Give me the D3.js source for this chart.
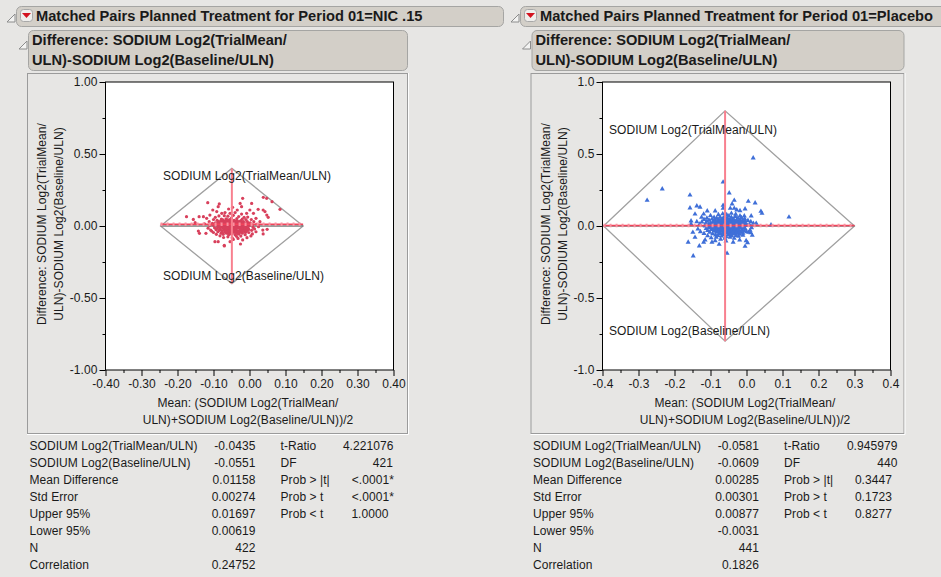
<!DOCTYPE html>
<html><head><meta charset="utf-8">
<script src="https://cdn.jsdelivr.net/npm/d3@7"></script>
<style>
html,body{margin:0;padding:0;background:#e7e6e4;overflow:hidden}
svg{display:block}
text{font-family:"Liberation Sans",Arial,sans-serif;font-size:12px;fill:#1a1a1a;letter-spacing:.07px}
</style></head><body><svg id="c" width="941" height="577"></svg>
<script>
const statLabels1 = ["SODIUM Log2(TrialMean/ULN)","SODIUM Log2(Baseline/ULN)","Mean Difference","Std Error","Upper 95%","Lower 95%","N","Correlation"];
const statLabels2 = ["t-Ratio","DF","Prob > |t|","Prob > t","Prob < t"];
const nicStats1 = ["-0.0435","-0.0551","0.01158","0.00274","0.01697","0.00619","422","0.24752"];
const nicStats2 = ["4.221076","421","<.0001*","<.0001*","1.0000"];
const plaStats1 = ["-0.0581","-0.0609","0.00285","0.00301","0.00877","-0.0031","441","0.1826"];
const plaStats2 = ["0.945979","440","0.3447","0.1723","0.8277"];
const xTicks = [-0.4,-0.3,-0.2,-0.1,0,0.1,0.2,0.3,0.4];
const xMinor = [-0.35,-0.25,-0.15,-0.05,0.05,0.15,0.25,0.35];
const yTicks = [-1,-0.5,0,0.5,1];
const yMinor = [-0.75,-0.25,0.25,0.75];
const nicDiamond = [[-0.247,0],[-0.049,0.4],[0.149,0],[-0.049,-0.4]];
const plaDiamond = [[-0.397,0],[-0.0595,0.8],[0.3,0],[-0.0595,-0.8]];
const nicCentre = -0.049, plaCentre = -0.0595;
const nicMeanDiff = 0.01158, plaMeanDiff = 0.00285;
const nicPoints = [
[.0384,.199],[.0477,.192],[.0625,.169],[.0847,.116],[-.116,.162],[-.084,.153],[-.087,.134],[-.019,.192],[-.026,.157],[.006,.157],
[-.058,.118],[-.047,.130],[-.034,.111],[-.022,.134],[.001,.111],[.024,.116],[.038,.111],[.043,.100],[.048,.076],[.052,.060],
[-.175,.065],[-.156,.046],[-.140,.065],[-.128,.065],[-.151,.023],[-.119,.053],[-.110,.076],[-.102,.111],[-.091,.100],[-.077,.088],
[-.068,.093],[-.054,.088],[-.040,.093],[-.022,.083],[-.008,.088],[.011,.088],[.018,.053],[.029,.030],[.037,-.028],[.049,-.023],
[.038,-.055],[.004,-.069],[.008,-.055],[-.142,-.035],[-.139,-.051],[-.121,-.051],[-.105,-.035],[-.096,-.109],[-.087,-.109],[-.070,-.134],
[-.070,-.139],[-.054,-.109],[-.025,-.125],[-.019,-.097],[-.007,-.081],[-.032,-.086],[-.045,-.093],[-.112,.030],[-.125,.015],[-.100,.045],
[-.095,.060],[-.085,.070],[-.070,.072],[-.060,.068],[-.045,.074],[-.030,.066],[-.015,.060],[-.005,.062],[.005,.045],[.012,.030],
[.020,.012],[.025,-.005],[.014,-.020],[.018,-.040],[-.010,.045],[-.020,.048],[-.035,.052],[-.050,.055],[-.065,.050],[-.078,.048],
[-.090,.040],[-.103,.018],[-.110,.005],[-.115,-.015],[-.108,-.028],[-.100,-.045],[-.092,-.058],[-.082,-.068],[-.072,-.080],[-.060,-.075],
[-.048,-.082],[-.036,-.072],[-.024,-.070],[-.012,-.060],[-.002,-.045],[.006,-.030],[.010,-.010],[.008,.008],[.002,.022]
];
const nicCore = [
[-.100,.005],[-.097,-.012],[-.095,.022],[-.093,-.025],[-.091,.010],[-.088,-.040],[-.087,.031],[-.086,-.005],[-.083,.017],[-.082,-.022],
[-.080,.036],[-.079,-.050],[-.078,.005],[-.077,-.032],[-.076,.022],[-.075,-.012],[-.074,.042],[-.073,-.058],[-.072,.012],[-.071,-.024],
[-.070,.030],[-.069,-.040],[-.068,.000],[-.067,.018],[-.066,-.014],[-.065,.040],[-.064,-.050],[-.063,.008],[-.062,-.030],[-.061,.026],
[-.060,-.006],[-.059,.034],[-.058,-.060],[-.057,.014],[-.056,-.020],[-.055,.044],[-.054,-.042],[-.053,.004],[-.052,.024],[-.051,-.012],
[-.050,-.030],[-.049,.012],[-.048,-.052],[-.047,.032],[-.046,-.004],[-.045,-.020],[-.044,.018],[-.043,-.038],[-.042,.040],[-.041,.006],
[-.040,-.060],[-.039,-.010],[-.038,.026],[-.037,-.026],[-.036,.012],[-.035,-.046],[-.034,.036],[-.033,-.002],[-.032,.018],[-.031,-.034],
[-.030,.000],[-.029,-.056],[-.028,.028],[-.027,-.016],[-.026,.010],[-.025,-.040],[-.024,.038],[-.023,-.006],[-.022,-.028],[-.021,.020],
[-.020,-.050],[-.019,.004],[-.018,-.018],[-.017,.030],[-.016,-.036],[-.015,.012],[-.014,-.008],[-.013,-.026],[-.012,.022],[-.011,-.044],
[-.010,.000],[-.009,.014],[-.008,-.016],[-.007,-.032],[-.006,.030],[-.005,.006],[-.004,-.012],[-.003,.018],[-.002,-.024],[.000,.004],
[-.089,.003],[-.084,-.030],[-.081,.012],[-.079,-.007],[-.076,-.044],[-.074,.026],[-.073,.003],[-.071,-.015],[-.069,.020],[-.068,-.031],
[-.067,.036],[-.066,-.045],[-.065,.004],[-.064,-.021],[-.063,.022],[-.062,-.009],[-.061,.043],[-.060,-.038],[-.059,.010],[-.058,-.016],
[-.057,.029],[-.056,-.047],[-.055,-.002],[-.054,.019],[-.053,-.029],[-.052,.038],[-.051,-.055],[-.050,.003],[-.049,-.019],[-.048,.025],
[-.047,-.038],[-.046,.013],[-.045,-.009],[-.044,.036],[-.043,-.027],[-.042,-.003],[-.041,.021],[-.040,-.044],[-.039,.008],[-.038,-.017],
[-.037,.034],[-.036,-.033],[-.035,.003],[-.034,-.052],[-.033,.023],[-.032,-.012],[-.031,.011],[-.030,-.042],[-.029,.029],[-.028,-.006],
[-.027,.017],[-.026,-.030],[-.025,.002],[-.024,-.020],[-.023,.031],[-.022,-.046],[-.021,.008],[-.020,-.012],[-.019,.021],[-.018,-.034],
[-.016,-.003],[-.014,.018],[-.012,-.014],[-.010,-.030],[-.008,.008],[-.006,-.020],[-.092,.016],[-.090,-.016],[-.085,.024],[-.083,-.010]
];
const plaPoints = [
[.0186,.472],[-.065,.305],[-.234,.257],[-.276,.178],[-.157,.215],[-.048,.229],[-.034,.178],[.005,.171],[.024,.160],[-.157,.125],
[-.138,.139],[-.129,.130],[-.109,.104],[-.087,.104],[-.065,.143],[-.065,.123],[-.040,.153],[-.045,.123],[-.034,.123],[-.027,.111],
[-.018,.106],[-.004,.118],[.040,.102],[.043,.088],[.118,.062],[.068,.007],[.013,.070],[-.006,.070],[-.143,.083],[-.119,.083],
[-.154,.035],[-.154,.014],[.019,.018],[.027,.018],[-.148,-.208],[-.054,-.190],[-.131,-.139],[-.162,-.113],[-.004,-.141],[-.143,-.079],
[-.149,-.044],[-.076,-.127],[-.115,-.097],[-.119,-.113],[-.096,-.113],[-.087,-.102],[-.057,-.104],[-.037,-.113],[-.019,-.097],[-.001,-.102],
[.003,-.116],[.016,-.065],[.006,-.044],[-.125,.060],[-.118,.045],[-.110,.055],[-.100,.072],[-.090,.060],[-.078,.078],[-.066,.084],
[-.055,.078],[-.042,.088],[-.030,.082],[-.018,.070],[-.005,.050],[.004,.038],[.012,.030],[.008,.010],[.014,-.012],[.010,-.030],
[.012,-.048],[-.010,-.065],[-.022,-.072],[-.034,-.086],[-.046,-.078],[-.060,-.085],[-.072,-.092],[-.084,-.078],[-.098,-.082],[-.108,-.068],
[-.118,-.052],[-.128,-.040],[-.135,-.022],[-.130,.012],[-.138,.030],[-.124,.028]
];
const plaCore = [
[-.115,.000],[-.113,.020],[-.112,-.018],[-.110,.032],[-.108,-.032],[-.106,.010],[-.105,-.010],[-.104,.040],[-.102,-.044],[-.100,.022],
[-.099,.000],[-.098,-.024],[-.096,.048],[-.095,.012],[-.094,-.054],[-.093,-.010],[-.092,.030],[-.090,-.034],[-.089,.004],[-.088,.042],
[-.087,-.018],[-.086,-.062],[-.085,.018],[-.084,-.042],[-.083,.054],[-.082,-.004],[-.081,.028],[-.080,-.026],[-.079,-.066],[-.078,.010],
[-.077,.040],[-.076,-.012],[-.075,-.050],[-.074,.024],[-.073,.060],[-.072,-.034],[-.071,.002],[-.070,.034],[-.069,-.070],[-.068,-.018],
[-.067,.014],[-.066,.050],[-.065,-.044],[-.064,.026],[-.063,-.006],[-.062,-.060],[-.061,.066],[-.060,.008],[-.059,-.028],[-.058,.040],
[-.057,-.074],[-.056,.018],[-.055,-.014],[-.054,.056],[-.053,-.048],[-.052,.002],[-.051,.030],[-.050,-.032],[-.049,.070],[-.048,-.062],
[-.047,.012],[-.046,.044],[-.045,-.018],[-.044,-.044],[-.043,.024],[-.042,.060],[-.041,-.070],[-.040,-.004],[-.039,.036],[-.038,-.030],
[-.037,.050],[-.036,-.056],[-.035,.012],[-.034,-.014],[-.033,.028],[-.032,-.040],[-.031,.066],[-.030,.000],[-.029,-.066],[-.028,.040],
[-.027,-.022],[-.026,.016],[-.025,-.048],[-.024,.054],[-.023,-.006],[-.022,.030],[-.021,-.034],[-.020,.006],[-.019,-.058],[-.018,.042],
[-.017,-.016],[-.016,.022],[-.015,-.040],[-.014,.058],[-.013,.000],[-.012,-.026],[-.011,.034],[-.010,-.050],[-.009,.012],[-.008,-.012],
[-.007,.026],[-.006,-.034],[-.005,.008],[-.004,.036],[-.003,-.022],[-.002,.018],[.000,-.040],[.002,.004],
[-.096,-.006],[-.094,.026],[-.091,-.020],[-.089,.036],[-.086,.008],[-.084,-.028],[-.082,.022],[-.080,-.008],[-.079,.046],[-.078,-.040],
[-.076,.016],[-.075,-.022],[-.074,.004],[-.073,.038],[-.072,-.052],[-.071,-.012],[-.070,.020],[-.069,-.030],[-.068,.044],[-.067,-.006],
[-.066,-.056],[-.065,.014],[-.064,-.024],[-.063,.034],[-.062,-.040],[-.061,.002],[-.060,.024],[-.059,-.012],[-.058,-.048],[-.057,.048],
[-.056,-.002],[-.055,-.032],[-.054,.030],[-.053,-.018],[-.052,.012],[-.051,-.060],[-.050,.042],[-.049,-.008],[-.048,.020],[-.047,-.036],
[-.046,.004],[-.045,.028],[-.044,-.014],[-.043,-.054],[-.042,.008],[-.041,.038],[-.040,-.028],[-.039,.014],[-.038,-.046],[-.037,.022],
[-.036,-.008],[-.035,.040],[-.034,-.032],[-.033,.006],[-.032,-.020],[-.031,.024],[-.030,-.052],[-.029,.012],[-.028,-.010],[-.027,.034],
[-.026,-.036],[-.025,.004],[-.024,.020],[-.023,-.026],[-.022,-.002],[-.020,-.044],[-.018,.016],[-.016,-.010],[-.014,.030],[-.012,-.004]
];
const titles = ["Matched Pairs Planned Treatment for Period 01=NIC .15","Matched Pairs Planned Treatment for Period 01=Placebo"];
const subTitle = ["Difference: SODIUM Log2(TrialMean/","ULN)-SODIUM Log2(Baseline/ULN)"];
const yTitle = ["Difference: SODIUM Log2(TrialMean/","ULN)-SODIUM Log2(Baseline/ULN)"];
const xTitle = ["Mean: (SODIUM Log2(TrialMean/","ULN)+SODIUM Log2(Baseline/ULN))/2"];
const upperName = "SODIUM Log2(TrialMean/ULN)", lowerName = "SODIUM Log2(Baseline/ULN)";

const svg = d3.select("#c");
const BG="#e7e6e4", HEAD="#d3cfc8", EDGE="#9b9b9b";

function disclosure(g,x,y){
  g.append("path").attr("d",`M${x},${y+8}L${x+8},${y}L${x+8},${y+8}Z`).attr("fill","#f3f3f2").attr("stroke","#8c8c8c").attr("stroke-width",1);
}
function panel(o){
  const g = svg.append("g");
  g.append("rect").attr("x",o.hx-.5).attr("y",6.5).attr("width",o.hw).attr("height",20).attr("rx",5).attr("fill",HEAD).attr("stroke","#a5a5a3");
  disclosure(g,o.hx-10,14);
  g.append("rect").attr("x",o.hx+3.5).attr("y",9.5).attr("width",12).attr("height",12).attr("rx",3).attr("fill","#efeeec").attr("stroke","#a8a8a8");
  g.append("path").attr("d",`M${o.hx+5},${13}h9l-4.5,5z`).attr("fill","#d3121f");
  g.append("text").attr("x",o.hx+19).attr("y",21).style("font-weight","bold").style("font-size","14.67px").style("letter-spacing","0").text(o.title);
  g.append("rect").attr("x",o.px+.5).attr("y",30.5).attr("width",o.pw).attr("height",40).attr("rx",5).attr("fill",HEAD).attr("stroke","#a5a5a3");
  disclosure(g,o.px-9,41);
  subTitle.forEach((t,i)=>g.append("text").attr("x",o.px+4).attr("y",45+i*20).style("font-weight","bold").style("font-size","14.67px").style("letter-spacing","0").text(t));
  g.append("rect").attr("x",o.px-.5).attr("y",73.5).attr("width",o.pw+1).attr("height",360).attr("fill",BG).attr("stroke",EDGE);
  g.append("path").attr("d",`M${o.px-1},434.5H${o.px+o.pw+1.5}V73`).attr("fill","none").attr("stroke","#fff");

  const x = d3.scaleLinear().domain([-0.4,0.4]).range([o.x0,o.x0+288]);
  const y = d3.scaleLinear().domain([-1,1]).range([370,82]);
  g.append("rect").attr("x",o.x0).attr("y",82).attr("width",288).attr("height",288).attr("fill","#fff").attr("stroke","#000");

  g.append("g").attr("transform","translate(0,370)").call(d3.axisBottom(x).tickValues(xTicks).tickFormat(d3.format(o.xf)).tickSize(6).tickPadding(3));
  g.append("g").attr("transform",`translate(${o.x0},0)`).call(d3.axisLeft(y).tickValues(yTicks).tickFormat(d3.format(o.yf)).tickSize(6).tickPadding(2));
  g.append("g").attr("transform","translate(0,370)").call(d3.axisBottom(x).tickValues(xMinor).tickFormat("").tickSize(3));
  g.append("g").attr("transform",`translate(${o.x0},0)`).call(d3.axisLeft(y).tickValues(yMinor).tickFormat("").tickSize(3));
  g.selectAll(".domain").attr("stroke","none");
  g.selectAll(".tick line").attr("stroke","#000");
  g.selectAll(".tick text").style("font-size","12px").style("font-family",'"Liberation Sans",Arial,sans-serif').attr("fill","#1a1a1a").text(function(){return this.textContent.replace("−","-");});

  yTitle.forEach((t,i)=>g.append("text").attr("transform",`translate(${o.ytx+i*17},224) rotate(-90)`).attr("text-anchor","middle").text(t));
  xTitle.forEach((t,i)=>g.append("text").attr("x",o.x0+142.5).attr("y",407+i*17).attr("text-anchor","middle").text(t));

  g.append("path").attr("d",d3.line().x(d=>x(d[0])).y(d=>y(d[1])).curve(d3.curveLinearClosed)(o.diamond)).attr("fill","none").attr("stroke","#a0a0a0").attr("stroke-width",1.3);
  g.append("line").attr("x1",x(o.diamond[0][0])).attr("x2",x(o.diamond[2][0])).attr("y1",y(0)).attr("y2",y(0)).attr("stroke","#7a7a7a").attr("stroke-width",1.5);

  if(o.shape==="circle"){
    g.append("g").selectAll("circle").data(o.points).join("circle").attr("cx",d=>x(d[0])).attr("cy",d=>y(d[1])).attr("r",1.6).attr("fill","#d8405c");
  } else {
    const tri=d3.symbol().type(d3.symbolTriangle).size(11);
    g.append("g").selectAll("path").data(o.points).join("path").attr("d",tri).attr("transform",d=>`translate(${x(d[0])},${y(d[1])})`).attr("fill","#3f6fd8");
  }
  const ym=y(o.meanDiff);
  g.append("line").attr("x1",x(o.diamond[0][0])).attr("x2",x(o.diamond[2][0])).attr("y1",ym).attr("y2",ym).attr("stroke","#f2435a").attr("stroke-width",1.5);
  g.append("line").attr("x1",x(o.diamond[0][0])).attr("x2",x(o.diamond[2][0])).attr("y1",ym).attr("y2",ym).attr("stroke","#f9909f").attr("stroke-width",3.5).attr("stroke-dasharray","2 4");
  g.append("line").attr("x1",x(o.centre)).attr("x2",x(o.centre)).attr("y1",y(o.diamond[1][1])).attr("y2",y(o.diamond[3][1])).attr("stroke","#f8808f").attr("stroke-width",2);

  g.append("text").attr("x",o.lx).attr("y",o.ly1).text(upperName);
  g.append("text").attr("x",o.lx).attr("y",o.ly2).text(lowerName);

  statLabels1.forEach((t,i)=>g.append("text").attr("x",o.px+1.5).attr("y",449.5+i*17).text(t));
  o.s1.forEach((t,i)=>g.append("text").attr("x",o.px+227.5).attr("y",449.5+i*17).attr("text-anchor","end").text(t));
  statLabels2.forEach((t,i)=>g.append("text").attr("x",o.px+252.5).attr("y",449.5+i*17).text(t));
  o.s2.forEach((t,i)=>g.append("text").attr("x",o.s2r[i]).attr("y",449.5+i*17).attr("text-anchor","end").text(t));
}
panel({hx:17,hw:487,title:titles[0],px:28,pw:379,x0:105.5,ytx:46,xf:".2f",yf:".2f",diamond:nicDiamond,centre:nicCentre,meanDiff:nicMeanDiff,points:nicPoints.concat(nicCore),shape:"circle",lx:163,ly1:180,ly2:280,s1:nicStats1,s2:nicStats2,s2r:[393.5,393,394,394,388.5]});
panel({hx:521,hw:430,title:titles[1],px:531.5,pw:372,x0:602.5,ytx:550,xf:".1f",yf:".1f",diamond:plaDiamond,centre:plaCentre,meanDiff:plaMeanDiff,points:plaPoints.concat(plaCore),shape:"tri",lx:609,ly1:134,ly2:335,s1:plaStats1,s2:plaStats2,s2r:[897.5,897.5,892,892,892]});
</script></body></html>
